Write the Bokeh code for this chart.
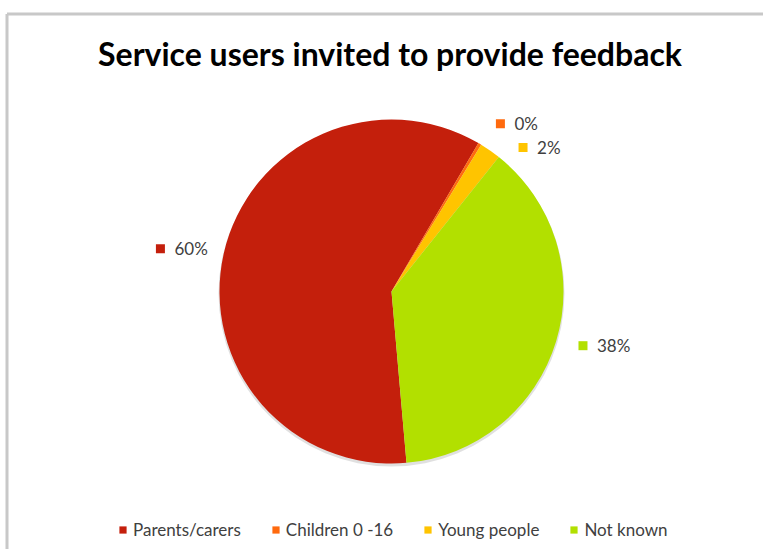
import math
from bokeh.plotting import figure
from bokeh.models import Range1d, Label, Legend, LegendItem, ColumnDataSource
from bokeh.core.properties import value
from bokeh.embed import file_html
from bokeh.resources import INLINE

# ---- data ----
categories = ["Parents/carers", "Children 0 -16", "Young people", "Not known"]
shares = [60.0, 0.3, 2.0, 38.0]
colors = ["#C41F0C", "#FF6A0E", "#FFC400", "#B2E000"]
title_text = "Service users invited to provide feedback"

# ---- layout ----
W, H = 763, 549
cx, cy = 391, H - 291          # pie centre (y measured upward)
R = 172
start_cw = 175.0               # first slice starts at this clockwise-from-top angle
label_r = [235, 200, 195, 199]
label_nudge = [-2.2, 2.1, 7.4, -1.0]
FONT = "Lato"

p = figure(width=W, height=H, x_range=Range1d(0, W), y_range=Range1d(0, H),
           output_backend="svg", toolbar_location=None, min_border=0)
p.axis.visible = False
p.grid.visible = False
p.outline_line_color = None
p.background_fill_color = "white"
p.border_fill_color = "white"

total = sum(shares)
starts, ends, mids = [], [], []
acc = 0.0
for s in shares:
    a0 = start_cw + acc / total * 360
    acc += s
    a1 = start_cw + acc / total * 360
    starts.append(90 - a0)
    ends.append(90 - a1)
    mids.append((a0 + a1) / 2)

# soft shadow under pie
p.circle(x=[cx], y=[cy - 2], radius=R + 1, fill_color="#000000", fill_alpha=0.12,
         line_color=None)

src = ColumnDataSource(dict(cat=categories, start=starts, end=ends, color=colors))
wr = p.wedge(x=cx, y=cy, radius=R, start_angle="start", end_angle="end",
             start_angle_units="deg", end_angle_units="deg", direction="clock",
             fill_color="color", line_color=None, source=src)

# data labels
pct = [f"{round(s / total * 100):d}%" for s in shares]
lx, ly = [], []
for m, r, n in zip(mids, label_r, label_nudge):
    a = math.radians(m + n)
    lx.append(cx + r * math.sin(a))
    ly.append(cy + r * math.cos(a))
p.rect(x=lx, y=ly, width=9, height=9, width_units="screen", height_units="screen",
       fill_color=colors, line_color=None)
p.text(x=[x + 14 for x in lx], y=ly, text=pct, text_font=value(FONT),
       text_font_size="17px", text_color="#404040", text_align="left",
       text_baseline="middle")

# title
p.add_layout(Label(x=W / 2 + 8, y=H - 53, text=title_text, text_font=FONT,
                   text_font_style="bold", text_font_size="32px",
                   text_color="#000000", text_align="center",
                   text_baseline="middle"))

# chart border (top and left visible)
p.segment(x0=[6.5, 6.5], y0=[H - 13.5, H - 13.5], x1=[W, 6.5], y1=[H - 13.5, 0],
          line_color="#c8c8c8", line_width=3)

legend = Legend(items=[LegendItem(label=c, renderers=[wr], index=i)
                       for i, c in enumerate(categories)],
                orientation="horizontal", location=(118, 9),
                glyph_width=9, glyph_height=9, label_standoff=6, spacing=30,
                padding=0, margin=0, border_line_color=None,
                background_fill_alpha=0, label_text_font=FONT,
                label_text_font_size="17px", label_text_color="#404040")
p.add_layout(legend, "center")

open("out.html", "w").write(file_html(p, INLINE))
